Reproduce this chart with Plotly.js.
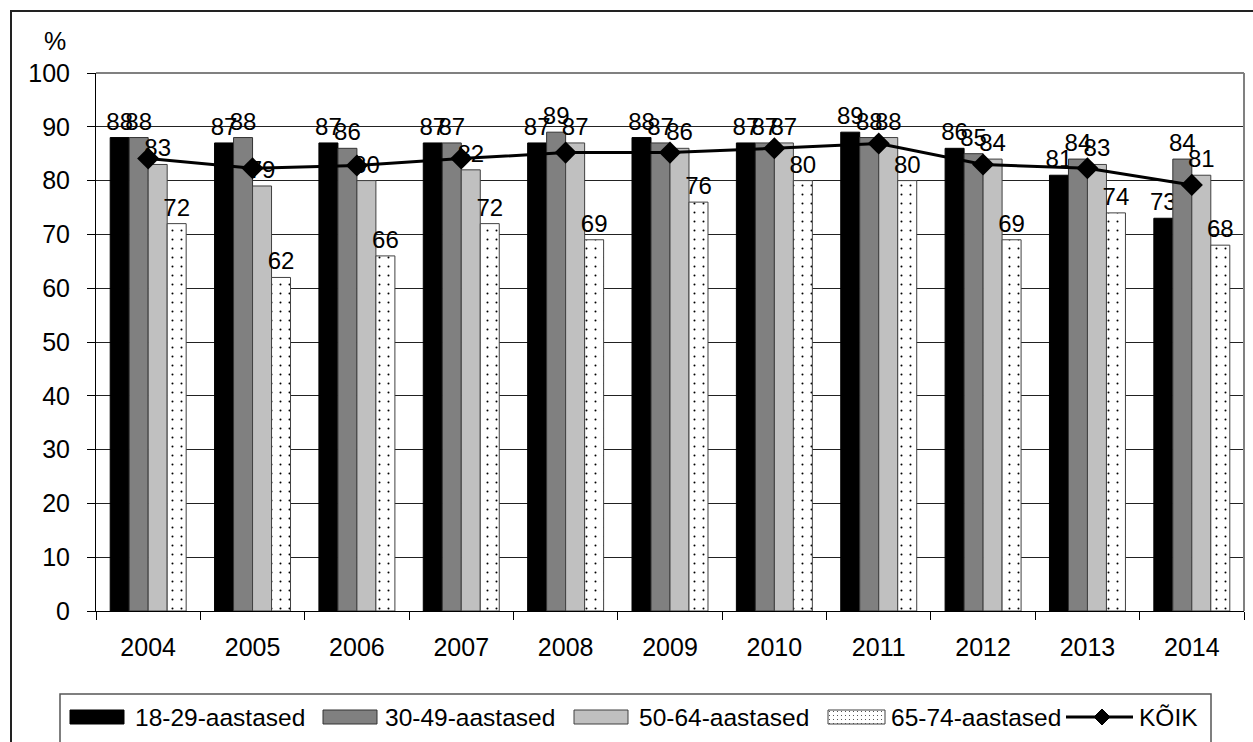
<!DOCTYPE html>
<html>
<head>
<meta charset="utf-8">
<script src="https://cdn.plot.ly/plotly-3.0.1.min.js"></script>
<style>html,body{margin:0;padding:0;background:#fff;overflow:hidden;}#chart{width:1253px;height:742px;}</style>
</head>
<body>
<div id="chart"></div>
<script>
const years = ['2004','2005','2006','2007','2008','2009','2010','2011','2012','2013','2014'];
const names = ['18-29-aastased','30-49-aastased','50-64-aastased','65-74-aastased','KÕIK'];
const age18_29 = [88,87,87,87,87,88,87,89,86,81,73];
const age30_49 = [88,88,86,87,89,87,87,88,85,84,84];
const age50_64 = [83,79,80,82,87,86,87,88,84,83,81];
const age65_74 = [72,62,66,72,69,76,80,80,69,74,68];
const koik = [84.1,82.3,82.8,84.1,85.2,85.2,86.0,86.9,83.0,82.3,79.2];
const yTicks = [0,10,20,30,40,50,60,70,80,90,100];

const FONT = 'Liberation Sans, Arial, sans-serif';
const FS = 25;
const LFS = 24;
const L=96, R=1244, T=73, B=611, W=1253, H=742;
const px = x => (x-L)/(R-L);
const py = y => (B-y)/(B-T);

function barTrace(name, vals, color, lineColor, pattern){
  const m = {color: color, line: {color: lineColor, width: 1}};
  if (pattern) m.pattern = pattern;
  return {
    type: 'bar', name: name, x: years, y: vals, marker: m,
    text: vals.map(String), textposition: 'outside', cliponaxis: false,
    constraintext: 'none', textangle: 0,
    outsidetextfont: {family: FONT, size: LFS, color: '#000'},
    showlegend: false, hoverinfo: 'x+y'
  };
}

const traces = [
  barTrace(names[0], age18_29, '#000000', '#000000'),
  barTrace(names[1], age30_49, '#808080', '#333333'),
  barTrace(names[2], age50_64, '#c0c0c0', '#404040'),
  barTrace(names[3], age65_74, '#ffffff', '#404040',
    {shape: '.', fgcolor: '#000000', bgcolor: '#ffffff', size: 9, solidity: 0.04, fillmode: 'replace'}),
  {type: 'scatter', mode: 'lines+markers', name: names[4], x: years, y: koik,
   line: {color: '#000', width: 3}, marker: {symbol: 'diamond', size: 17, color: '#000'},
   showlegend: false, cliponaxis: false}
];

// legend geometry (pixels)
const legY = 717, sw = 7;
const sw1 = [70,124], sw2 = [323,377], sw3 = [574,628], sw4 = [828,885];
const txtX = [133, 383, 637, 889, 1137];
const lineSw = [1066,1133], diaX = 1102;

const shapes = [
  // outer border
  {type:'rect', xref:'paper', yref:'paper', x0:px(11), x1:px(1262), y0:py(11), y1:py(755), line:{color:'#222', width:2}, layer:'below'},
  // plot area top & right border
  {type:'line', xref:'paper', yref:'paper', x0:0, x1:1, y0:1, y1:1, line:{color:'#808080', width:2}},
  {type:'line', xref:'paper', yref:'paper', x0:1, x1:1, y0:0, y1:1, line:{color:'#808080', width:2}},
  // legend box
  {type:'rect', xref:'paper', yref:'paper', x0:px(60), x1:px(1211), y0:py(694), y1:py(750), line:{color:'#555', width:1.5}},
  // swatches
  {type:'rect', xref:'paper', yref:'paper', x0:px(sw1[0]), x1:px(sw1[1]), y0:py(legY-sw), y1:py(legY+sw), fillcolor:'#000', line:{color:'#000', width:1}},
  {type:'rect', xref:'paper', yref:'paper', x0:px(sw2[0]), x1:px(sw2[1]), y0:py(legY-sw), y1:py(legY+sw), fillcolor:'#808080', line:{color:'#333', width:1}},
  {type:'rect', xref:'paper', yref:'paper', x0:px(sw3[0]), x1:px(sw3[1]), y0:py(legY-sw), y1:py(legY+sw), fillcolor:'#c0c0c0', line:{color:'#404040', width:1}},
  {type:'rect', xref:'paper', yref:'paper', x0:px(sw4[0]), x1:px(sw4[1]), y0:py(legY-sw), y1:py(legY+sw), fillcolor:'rgba(0,0,0,0)', line:{color:'#404040', width:1}},
  {type:'line', xref:'paper', yref:'paper', x0:px(lineSw[0]), x1:px(lineSw[1]), y0:py(legY), y1:py(legY), line:{color:'#000', width:3}},
  {type:'path', xref:'paper', yref:'paper',
   path: 'M '+px(diaX-8)+' '+py(legY)+' L '+px(diaX)+' '+py(legY-8)+' L '+px(diaX+8)+' '+py(legY)+' L '+px(diaX)+' '+py(legY+8)+' Z',
   fillcolor:'#000', line:{color:'#000', width:1}}
];

const dotSvg = "<svg xmlns='http://www.w3.org/2000/svg' width='57' height='14'><defs><pattern id='p' width='4' height='4' patternUnits='userSpaceOnUse'><rect x='1' y='1' width='1' height='1' fill='#555'/></pattern></defs><rect width='57' height='14' fill='#fff'/><rect width='57' height='14' fill='url(#p)'/></svg>";
const images = [{
  source: 'data:image/svg+xml;charset=utf-8,' + encodeURIComponent(dotSvg),
  xref:'paper', yref:'paper', x:px(sw4[0]), y:py(legY-sw), sizex:px(sw4[1])-px(sw4[0]), sizey:py(legY-sw)-py(legY+sw),
  xanchor:'left', yanchor:'top', sizing:'stretch', layer:'above'
}];

const annotations = names.map((n,i) => ({
  text: n, xref:'paper', yref:'paper', x: px(txtX[i]), y: py(legY), xanchor:'left', yanchor:'middle',
  showarrow:false, font:{family:FONT, size:24.5, color:'#000'}
}));
annotations.push({text:'%', xref:'paper', yref:'paper', x:px(55), y:py(41), xanchor:'center', yanchor:'middle',
  showarrow:false, font:{family:FONT, size:FS, color:'#000'}});

const layout = {
  width: W, height: H,
  margin: {l: L, r: W-R, t: T, b: H-B, pad: 0, autoexpand: false},
  paper_bgcolor: '#fff', plot_bgcolor: '#fff',
  font: {family: FONT, size: FS, color: '#000'},
  barmode: 'group', bargap: 0.272, bargroupgap: 0,
  showlegend: false,
  xaxis: {
    type: 'category', range: [-0.5, years.length - 0.5], autorange: false,
    tickson: 'boundaries', ticks: 'outside', ticklen: 8, tickcolor: '#000', tickwidth: 1,
    showline: true, linecolor: '#000', linewidth: 1, showgrid: false, zeroline: false,
    tickfont: {family: FONT, size: FS, color: '#000'}, ticklabelstandoff: 14, fixedrange: true
  },
  yaxis: {
    range: [0, 100], autorange: false, tickvals: yTicks, ticktext: yTicks.map(String),
    ticks: 'outside', ticklen: 8, tickcolor: '#000', tickwidth: 1,
    showline: true, linecolor: '#000', linewidth: 1,
    showgrid: true, gridcolor: '#222', gridwidth: 1, zeroline: false,
    tickfont: {family: FONT, size: FS, color: '#000'}, ticklabelstandoff: 12, fixedrange: true
  },
  shapes: shapes, images: images, annotations: annotations
};

Plotly.newPlot('chart', traces, layout, {displayModeBar: false, staticPlot: true});
</script>
</body>
</html>
